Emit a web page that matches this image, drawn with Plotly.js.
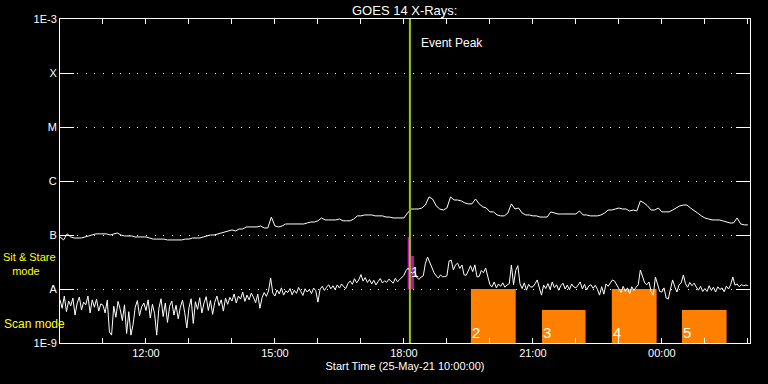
<!DOCTYPE html>
<html>
<head>
<meta charset="utf-8">
<script src="https://cdn.plot.ly/plotly-3.0.1.min.js"></script>
<style>
html,body{margin:0;padding:0;background:#000;}
#chart{width:768px;height:384px;}
</style>
</head>
<body>
<div id="chart"></div>
<script>
// ---- data (fluxes in units of 1e-9 W/m^2) ----
const startTime = '2021-05-25T10:00:00Z';
const longCadenceMin = 5;
const shortCadenceMin = 3;

// GOES 14 long channel (1-8 A), 5-minute samples from 10:00
const longFlux = [
  92,81,105,92,88,88,88,92,96,100,105,105,
  105,105,100,105,109,100,96,96,96,92,92,92,
  92,88,84,84,84,84,81,81,81,81,81,84,
  84,88,88,88,92,96,100,100,105,109,114,119,
  124,119,129,129,141,141,141,141,147,135,135,215,
  147,141,147,160,160,160,160,160,160,167,174,174,
  183,207,190,190,190,190,198,183,183,183,198,226,
  226,235,235,235,226,226,226,215,215,207,207,207,
  207,255,303,303,303,316,359,507,464,346,303,290,
  316,507,445,445,427,393,377,377,464,377,332,316,
  268,268,235,226,226,255,377,303,316,255,235,235,
  226,226,215,215,215,268,255,245,245,245,245,245,
  245,278,235,235,226,226,226,235,255,290,290,303,
  316,303,303,278,290,278,427,393,346,290,290,316,
  268,268,268,290,316,346,359,359,316,278,255,226,
  207,198,190,190,190,183,174,167,167,207,160,154,
  154
];

// GOES 14 short channel (0.5-4 A), 3-minute samples from 10:00
const shortFlux = [
  6.3,4.4,7.4,3.8,6.0,4.9,6.8,3.3,5.5,7.1,4.1,5.7,5.1,7.4,3.6,6.3,4.6,6.5,3.9,5.3,
  5.0,3.6,6.2,1.6,1.4,4.8,3.0,5.9,4.2,2.6,5.1,1.5,3.8,1.4,2.2,4.6,6.1,3.2,4.7,5.5,
  4.0,6.3,2.9,5.2,3.5,1.4,4.4,6.6,3.1,5.5,2.4,4.8,6.0,3.3,5.0,2.8,4.6,6.2,3.7,1.9,
  4.5,6.6,2.3,5.8,4.2,6.9,3.6,5.5,7.2,4.0,6.1,3.4,5.7,7.4,4.9,6.3,3.9,6.8,5.2,7.0,
  6.0,8.1,5.5,7.4,6.5,8.8,5.9,7.7,6.3,8.4,7.0,5.6,8.0,4.4,6.9,8.6,7.3,9.2,16.0,8.4,
  7.4,9.6,8.1,10.5,7.7,9.2,8.6,10.2,7.8,9.5,8.3,10.7,9.0,7.6,10.1,8.8,9.8,8.2,10.4,9.3,
  5.7,9.9,11.2,9.4,10.8,12.0,10.1,11.5,9.7,11.9,10.4,12.4,11.0,10.2,12.8,14.0,12.2,15.5,13.0,14.7,
  18.5,14.0,16.3,13.2,15.0,12.4,14.5,11.9,13.8,15.6,12.9,14.2,13.3,15.2,14.0,12.8,15.8,13.6,14.9,16.2,
  18.0,22.0,24.5,20.5,19.8,21.0,16.5,15.0,16.7,17.5,30.0,39.0,30.5,25.0,20.0,17.5,16.0,18.2,16.8,17.0,
  17.5,33.0,34.3,22.5,28.0,30.0,24.0,27.8,18.2,18.0,22.0,27.0,21.0,28.0,16.7,17.0,22.0,20.0,24.5,16.0,
  12.0,11.0,13.5,10.5,12.4,11.2,13.0,10.8,11.9,12.5,27.8,12.0,22.0,27.0,12.5,10.2,13.0,9.5,12.2,10.8,
  11.0,12.5,14.7,10.5,7.7,11.8,10.2,12.6,9.8,13.5,10.6,12.0,9.5,11.5,12.8,10.0,11.8,9.7,12.4,10.9,
  10.5,11.8,13.5,10.0,12.2,9.6,11.4,12.0,10.3,11.7,9.9,7.7,11.0,8.0,12.4,11.2,13.0,14.7,14.0,11.9,
  10.0,8.6,11.2,9.0,10.5,8.2,11.0,9.4,10.8,12.0,22.5,16.7,13.0,12.0,13.5,9.0,7.7,16.7,12.0,9.0,
  8.8,10.5,6.8,6.5,10.0,14.7,11.0,8.8,12.0,13.0,18.2,12.5,10.8,13.2,11.5,12.8,10.9,9.5,11.2,9.0,
  10.2,9.0,11.5,9.4,10.8,8.8,11.0,9.8,10.5,8.9,11.3,10.0,12.0,16.7,11.8,12.4,11.0,12.0,11.5,11.8,
  11.6
];

// IRIS observation blocks
const blockLabels = ['2','3','4','5'];
const blockStart  = ['2021-05-25 19:33:30','2021-05-25 21:12:40','2021-05-25 22:50:10','2021-05-26 00:28:00'];
const blockEnd    = ['2021-05-25 20:36:00','2021-05-25 22:13:30','2021-05-25 23:52:40','2021-05-26 01:30:20'];
const blockTop    = [10, 4.1, 10, 4.1];

const markStart = ['2021-05-25 18:05:10','2021-05-25 18:09:40'];
const markEnd   = ['2021-05-25 18:08:00','2021-05-25 18:14:00'];
const markTop   = [92, 41];
const markLabel = '1';

const eventPeak = '2021-05-25 18:08:20';

const yTickVals = [1, 10, 100, 1000, 10000, 100000, 1000000];
const yTickText = ['1E-9','A','B','C','M','X','1E-3'];

const xTickVals = ['2021-05-25 12:00','2021-05-25 15:00','2021-05-25 18:00','2021-05-25 21:00','2021-05-26 00:00'];
const xTickText = ['12:00','15:00','18:00','21:00','00:00'];

// ---- build ----
const NW = 1e-9;
function pad(n){return (n<10?'0':'')+n;}
function timeAxis(n, cadenceMin){
  const t0 = Date.parse(startTime);
  const out = [];
  for(let i=0;i<n;i++){
    const d = new Date(t0 + i*cadenceMin*60000);
    out.push(d.getUTCFullYear()+'-'+pad(d.getUTCMonth()+1)+'-'+pad(d.getUTCDate())+' '+
             pad(d.getUTCHours())+':'+pad(d.getUTCMinutes())+':'+pad(d.getUTCSeconds()));
  }
  return out;
}

const FONT = 'Liberation Sans, DejaVu Sans, sans-serif';
const traces = [];
const annotations = [];

blockLabels.forEach((lab,i)=>{
  traces.push({
    type:'scatter', mode:'lines', hoverinfo:'skip', showlegend:false,
    x:[blockStart[i],blockEnd[i],blockEnd[i],blockStart[i],blockStart[i]],
    y:[NW,NW,blockTop[i]*NW,blockTop[i]*NW,NW],
    fill:'toself', fillcolor:'#ff8000', line:{width:0,color:'#ff8000'}
  });
  annotations.push({
    xref:'x', yref:'paper', x:blockStart[i], y:0, xanchor:'left', yanchor:'bottom',
    xshift:-1, yshift:0, text:lab, showarrow:false,
    font:{family:FONT,size:15,color:'#ffffff'}
  });
});

markStart.forEach((s,i)=>{
  traces.push({
    type:'scatter', mode:'lines', hoverinfo:'skip', showlegend:false,
    x:[s,markEnd[i],markEnd[i],s,s],
    y:[10*NW,10*NW,markTop[i]*NW,markTop[i]*NW,10*NW],
    fill:'toself', fillcolor:'#cc00cc', line:{width:0,color:'#cc00cc'}
  });
});

traces.push({
  type:'scatter', mode:'lines', showlegend:false,
  x:timeAxis(longFlux.length, longCadenceMin), y:longFlux.map(v=>v*NW),
  line:{color:'#ffffff',width:1}
});
traces.push({
  type:'scatter', mode:'lines', showlegend:false,
  x:timeAxis(shortFlux.length, shortCadenceMin), y:shortFlux.map(v=>v*NW),
  line:{color:'#ffffff',width:1}
});
traces.push({
  type:'scatter', mode:'lines', showlegend:false, hoverinfo:'skip',
  x:[eventPeak,eventPeak], y:[1e-9,1e-3],
  line:{color:'#99cc00',width:2}
});

annotations.push({
  xref:'x', yref:'paper', x:markStart[1], y:0.22, xanchor:'left', yanchor:'middle',
  xshift:-2, text:markLabel, showarrow:false, font:{family:FONT,size:14,color:'#ffffff'}
});
annotations.push({
  xref:'x', yref:'paper', x:eventPeak, y:0.926, xanchor:'left', yanchor:'middle',
  xshift:9, text:'Event Peak', showarrow:false, font:{family:FONT,size:12,color:'#ffffff'}
});
annotations.push({
  xref:'paper', yref:'paper', x:-0.0841, y:0.2430, xanchor:'left', yanchor:'middle',
  align:'left', borderpad:0,
  text:'Sit &amp; Stare<br>&nbsp;&nbsp;&nbsp;mode', showarrow:false, font:{family:FONT,size:11,color:'#ffff00'}
});
annotations.push({
  xref:'paper', yref:'paper', x:-0.0845, y:0.0586, xanchor:'left', yanchor:'middle',
  text:'Scan mode', showarrow:false, font:{family:FONT,size:12,color:'#ffff00'}
});

const layout = {
  width:768, height:384,
  paper_bgcolor:'#000000', plot_bgcolor:'#000000',
  margin:{l:60,r:18,t:19,b:41},
  showlegend:false,
  font:{family:FONT,size:11,color:'#ffffff'},
  title:{text:'GOES 14 X-Rays:', x:0.527, xanchor:'center', y:0.974, yanchor:'middle',
         font:{family:FONT,size:13,color:'#ffffff'}},
  xaxis:{
    type:'date', range:['2021-05-25 10:00','2021-05-26 02:03'],
    tickvals:xTickVals, ticktext:xTickText,
    ticks:'inside', ticklen:5, tickcolor:'#ffffff', tickwidth:1,
    minor:{ticks:'inside', dtick:3600000, tick0:'2021-05-25 10:00', ticklen:5, tickcolor:'#ffffff', showgrid:false},
    showline:true, linecolor:'#ffffff', linewidth:1, mirror:'ticks',
    showgrid:false, zeroline:false,
    tickfont:{family:FONT,size:11,color:'#ffffff'},
    title:{text:'Start Time (25-May-21 10:00:00)', standoff:4, font:{family:FONT,size:11,color:'#ffffff'}}
  },
  yaxis:{
    type:'log', range:[-9,-3],
    tickvals:yTickVals.map(v=>v*NW), ticktext:yTickText,
    ticks:'inside', ticklen:14, tickcolor:'#ffffff', tickwidth:1,
    showline:true, linecolor:'#ffffff', linewidth:1, mirror:'ticks',
    showgrid:true, gridcolor:'#ffffff', gridwidth:1, griddash:'1px,7.6px',
    zeroline:false,
    tickfont:{family:FONT,size:11,color:'#ffffff'}
  },
  annotations:annotations
};

Plotly.newPlot('chart', traces, layout, {staticPlot:true, displayModeBar:false});
</script>
</body>
</html>
